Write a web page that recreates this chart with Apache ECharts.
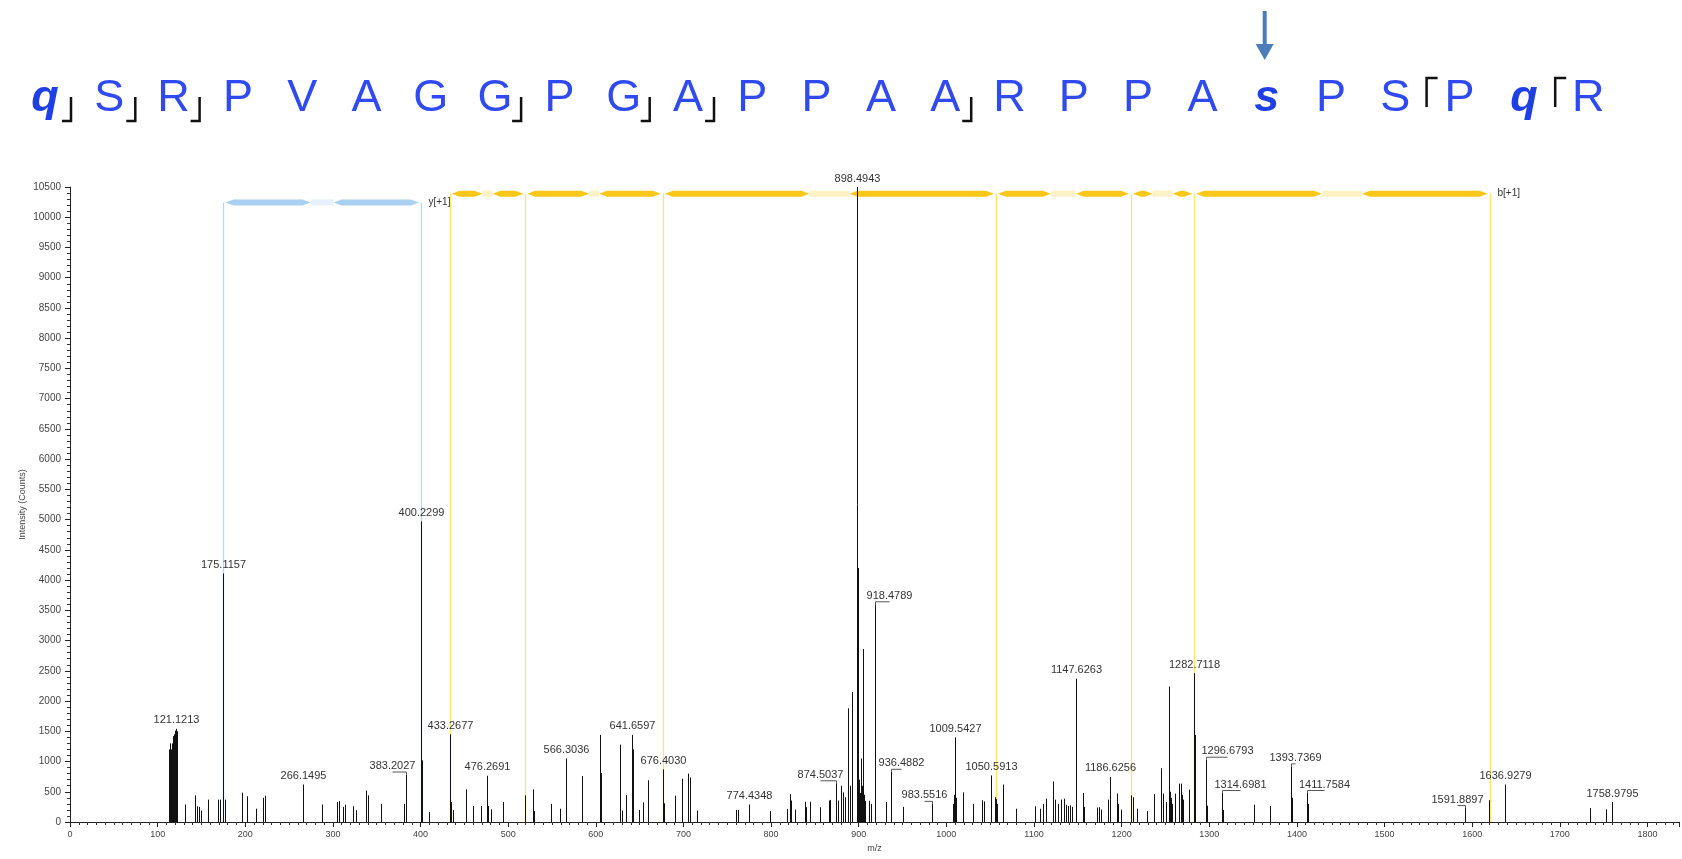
<!DOCTYPE html>
<html><head><meta charset="utf-8">
<script src="https://cdn.jsdelivr.net/npm/echarts/dist/echarts.min.js"></script>
<style>html,body{margin:0;padding:0;background:#fff;}#c{width:1682px;height:859px;}</style>
</head><body><div id="c"></div>
<script>
// ---------- DATA ----------
const peaks = [
 [112.5,700],[113.0,950],[113.5,1200],[114.0,1300],[114.5,1250],[115.0,1150],[115.5,1200],[116.0,1300],[116.5,1250],[117.0,1300],[117.5,1350],[118.0,1420],[118.5,1380],[119.0,1450],[119.5,1500],[120.0,1510],[120.5,1480],[121.1213,1540],[121.6,1500],[122.1,1450],[122.6,1150],
 [131.7,290],[142.6,440],[144.7,260],[147.1,250],[149.5,190],[158.0,370],[169.0,370],[171.0,370],[175.1157,4110],[176.3,370],[196.6,485],[202.3,425],[212.8,220],[220.5,400],[222.6,435],[266.1495,620],[287.0,290],[304.9,330],[307.0,345],[311.0,250],[313.9,285],[323.2,260],[326.0,195],[338.2,520],[340.2,440],[354.5,300],[381.2,300],[383.2027,785],[400.2299,4970],[401.2,1020],[409.2,165],[433.2677,1450],[434.3,330],[436.8,195],[451.8,540],[460.4,265],[469.3,265],[476.2691,765],[477.4,265],[480.2,210],[493.6,330],[519.6,440],[528.1,540],[529.4,180],[549.2,300],[558.6,220],[566.3036,1050],[583.7,760],[605.2,1440],[606.4,810],
 [627.8,1280],[629.4,190],[633.9,445],[641.6597,1440],[642.9,1200],[649.0,200],[653.9,325],[660.0,690],[676.4030,870],[677.4,310],[690.2,435],[698.0,715],[705.3,800],[706.9,735],[715.1,190],[760.4,200],[762.4,200],[774.4348,290],[798.7,180],[818.3,215],[821.1,460],[823.2,355],[827.7,205],[838.7,335],[839.9,245],[844.8,335],[856.2,245],[866.0,355],[867.2,365],[874.5037,640],[876.6,355],[879.5,600],[881.5,490],[884.8,410],[887.6,1880],[889.6,600],[892.8,2150],[898.4943,10500],[899.0,4200],[900.4,700],[901.5,480],[902.5,1050],[903.4,600],[904.8,2860],[905.4,1150],[906.2,450],[907.0,350],[911.5,350],[913.5,300],[918.4789,3600],[919.0,2180],[931.0,330],[936.4882,830],[951.0,250],[983.5516,300],
 [1007.5,300],[1008.5,450],[1009.5427,1400],[1010.1,620],[1010.6,400],[1011.5,300],[1019.5,490],[1030.6,300],[1041.2,360],[1042.5,340],[1050.5913,770],[1055.2,410],[1056.6,380],[1057.8,300],[1064.8,620],[1079.2,220],[1100.9,260],[1107.3,220],[1110.4,300],[1113.4,385],[1121.8,670],[1123.7,370],[1127.5,300],[1131.3,370],[1134.4,385],[1137.0,285],[1139.0,265],[1141.0,275],[1143.0,250],[1147.6263,2370],[1148.1,1020],[1156.0,480],[1157.5,250],[1172.0,240],[1174.0,245],[1176.0,205],[1185.0,370],[1186.6256,745],[1195.0,470],[1196.2,300],[1199.0,205],[1210.8,440],[1212.5,410],[1217.7,220],[1229.0,180],[1236.7,460],[1245.4,890],[1247.0,470],[1250.5,330],[1254.1,2240],[1254.6,1900],[1255.5,500],[1256.5,400],[1257.5,300],[1260.5,470],[1265.0,635],[1266.0,600],[1268.0,635],[1269.0,450],[1269.8,370],[1276.3,535],[1282.7118,2460],[1283.2,1440],[1284.0,440],[1296.6793,1030],[1297.5,270],[1314.6981,480],[1315.5,200],[1351.0,285],[1369.3,265],[1393.7369,920],[1394.5,400],[1411.7584,480],[1412.5,300],[1591.8897,230],[1619.0,360],[1619.6,300],[1636.9279,620],[1637.6,300],[1735.0,230],[1753.0,210],[1758.9795,330],[1760.0,330]
];
const labelMz = [121.1213,175.1157,266.1495,383.2027,400.2299,433.2677,476.2691,566.3036,641.6597,676.4030,774.4348,874.5037,898.4943,918.4789,936.4882,983.5516,1009.5427,1050.5913,1147.6263,1186.6256,1282.7118,1296.6793,1314.6981,1393.7369,1411.7584,1591.8897,1636.9279,1758.9795];
const bIons = [433.2677, 519.6, 676.4030, 1056.6, 1210.6, 1282.7118, 1619.9];
const yIons = [175.1157, 400.2299];
const seqLetters = ['q','S','R','P','V','A','G','G','P','G','A','P','P','A','A','R','P','P','A','s','P','S','P','q','R'];
const modifiedIdx = [0, 19, 23];
const bracketAfter = [0, 1, 2, 7, 9, 10, 14];
const bracketBefore = [22, 24];
const arrowIdx = 19;

// ---------- STYLE / LAYOUT ----------
const FONT = '"Liberation Sans", Arial, sans-serif';
const B_LEVEL = 10390, Y_LEVEL = 10245;
const bGaps = [10, 10, 40, 25, 20, 40];
const yGap = 23;
const labelDx = {'383.2027':-14,'874.5037':-16,'918.4789':14,'936.4882':10,'983.5516':-8,'1296.6793':21,'1314.6981':18,'1411.7584':17,'1393.7369':4,'1591.8897':-8};
const SEQ_X0 = 45, SEQ_DX = 64.3, SEQ_Y = 99;

function hexPts(xa, xb, y, h, t){ t = Math.min(t, Math.max(0,(xb-xa)/2)); return [[xa,y],[xa+t,y-h],[xb-t,y-h],[xb,y],[xb-t,y+h],[xa+t,y+h]]; }
function barShapes(x1, x2, y, gap, color, pale){
  const mid = (x1+x2)/2;
  return [
    {type:'rect', shape:{x:mid-gap/2, y:y-3, width:gap, height:6}, style:{fill:pale}},
    {type:'polygon', shape:{points:hexPts(x1+2, mid-gap/2, y, 3, 8)}, style:{fill:color}},
    {type:'polygon', shape:{points:hexPts(mid+gap/2, x2-2, y, 3, 8)}, style:{fill:color}}
  ];
}

const chart = echarts.init(document.getElementById('c'), null, {renderer:'canvas'});

// sequence header graphics
const graphics = [];
seqLetters.forEach((ch,i)=>{
  const mod = modifiedIdx.includes(i);
  graphics.push({type:'text', x: SEQ_X0+i*SEQ_DX, y: SEQ_Y, style:{text: ch, font: (mod?'italic bold ':'')+'45px '+FONT, fill: mod?'#1f3fe6':'#2f4af2', textAlign:'center', textVerticalAlign:'middle'}});
});
bracketAfter.forEach(i=>{
  const x = SEQ_X0 + i*SEQ_DX + 26;
  graphics.push({type:'polyline', shape:{points:[[x-9,121],[x,121],[x,97]]}, style:{stroke:'#111', lineWidth:2.5, fill:'none'}});
});
bracketBefore.forEach(j=>{
  const x = SEQ_X0 + j*SEQ_DX - 33;
  graphics.push({type:'polyline', shape:{points:[[x,107],[x,78],[x+11,78]]}, style:{stroke:'#111', lineWidth:2.5, fill:'none'}});
});
const ax = SEQ_X0 + arrowIdx*SEQ_DX - 2;
graphics.push({type:'line', shape:{x1:ax, y1:11, x2:ax, y2:48}, style:{stroke:'#4c7cba', lineWidth:4}});
graphics.push({type:'polygon', shape:{points:[[ax-9,44],[ax+9,44],[ax,60]]}, style:{fill:'#4c7cba'}});

const ionLineData = bIons.map((m,i)=>[m, B_LEVEL, 0, i===bIons.length-1?1:0])
  .concat(yIons.map((m,i)=>[m, Y_LEVEL, 1, i===yIons.length-1?1:0]));

const plain = v => String(v);

const option = {
  animation:false,
  backgroundColor:'#fff',
  grid:{left:70, right:3, top:187, bottom:37, containLabel:false},
  xAxis:{type:'value', min:0, max:1836, interval:100,
    name:'m/z', nameLocation:'middle', nameGap:21,
    nameTextStyle:{fontSize:9, color:'#444', fontFamily:FONT},
    axisLine:{lineStyle:{color:'#222', width:1}},
    axisTick:{length:5, lineStyle:{color:'#222'}},
    minorTick:{show:true, splitNumber:10, length:3, lineStyle:{color:'#333'}},
    axisLabel:{fontSize:9, color:'#444', fontFamily:FONT, margin:8, showMaxLabel:false, formatter:plain},
    splitLine:{show:false}, minorSplitLine:{show:false}},
  yAxis:{type:'value', min:0, max:10500, interval:500,
    name:'Intensity (Counts)', nameLocation:'middle', nameGap:43, nameRotate:90, nameMoveOverlap:false,
    nameTextStyle:{fontSize:9, color:'#444', fontFamily:FONT},
    axisLine:{show:true, lineStyle:{color:'#222', width:1}},
    axisTick:{show:true, length:5, lineStyle:{color:'#222'}},
    minorTick:{show:true, splitNumber:5, length:3, lineStyle:{color:'#333'}},
    axisLabel:{fontSize:10, color:'#444', fontFamily:FONT, margin:9, formatter:plain},
    splitLine:{show:false}, minorSplitLine:{show:false}},
  graphic: graphics,
  series:[
    { // ion vertical lines
      type:'custom', z:1, silent:true, data: ionLineData,
      renderItem:(params, api)=>{
        const m = api.value(0), lvl = api.value(1), kind = api.value(2), last = api.value(3);
        const top = api.coord([m, lvl]), bot = api.coord([m, 0]);
        const x = Math.round(top[0]) + 0.5;
        const children = [{type:'line', shape:{x1:x, y1:top[1], x2:x, y2:bot[1]}, style:{stroke: kind===0?'#fde46a':'#b7d7f4', lineWidth:1.3}}];
        if (last) children.push({type:'text', style:{text: kind===0?'b[+1]':'y[+1]', x:x+7, y:top[1], textAlign:'left', textVerticalAlign:'middle', font:'10px '+FONT, fill:'#333'}});
        return {type:'group', children};
      }
    },
    { // b-ion ladder bar
      type:'custom', z:2, silent:true,
      data: bIons.slice(0,-1).map((m,i)=>[m, bIons[i+1], i]),
      renderItem:(params, api)=>{
        const a = api.coord([api.value(0), B_LEVEL]), b = api.coord([api.value(1), B_LEVEL]);
        return {type:'group', children: barShapes(a[0], b[0], a[1], bGaps[api.value(2)], '#f9c719', '#fdf1c6')};
      }
    },
    { // y-ion ladder bar
      type:'custom', z:2, silent:true,
      data: yIons.slice(0,-1).map((m,i)=>[m, yIons[i+1], i]),
      renderItem:(params, api)=>{
        const a = api.coord([api.value(0), Y_LEVEL]), b = api.coord([api.value(1), Y_LEVEL]);
        return {type:'group', children: barShapes(a[0], b[0], a[1], yGap, '#a9d0f1', '#e6f1fb')};
      }
    },
    { // peaks
      type:'custom', z:3, silent:true, data: peaks,
      renderItem:(params, api)=>{
        const p0 = api.coord([api.value(0), 0]), p1 = api.coord([api.value(0), api.value(1)]);
        const x = Math.round(p0[0]) + 0.5;
        return {type:'line', shape:{x1:x, y1:p0[1], x2:x, y2:p1[1]}, style:{stroke:'#111', lineWidth:1}};
      }
    },
    { // peak labels
      type:'custom', z:4, silent:true,
      data: labelMz.map(m=>{ const pk = peaks.find(p=>p[0]===m); return [m, pk?pk[1]:0]; }),
      renderItem:(params, api)=>{
        const m = api.value(0);
        const p = api.coord([m, api.value(1)]);
        const txt = m.toFixed(4);
        const dx = labelDx[txt] || 0;
        const x = Math.round(p[0]) + 0.5;
        const children = [{type:'text', style:{text:txt, x:x+dx, y:p[1]-3, textAlign:'center', textVerticalAlign:'bottom', font:'11px '+FONT, fill:'#333'}}];
        if (dx) children.push({type:'polyline', shape:{points:[[x,p[1]],[x,p[1]-2.5],[x+dx,p[1]-2.5]]}, style:{stroke:'#555', lineWidth:1, fill:'none'}});
        return {type:'group', children};
      }
    }
  ]
};
chart.setOption(option);
</script>
</body></html>
